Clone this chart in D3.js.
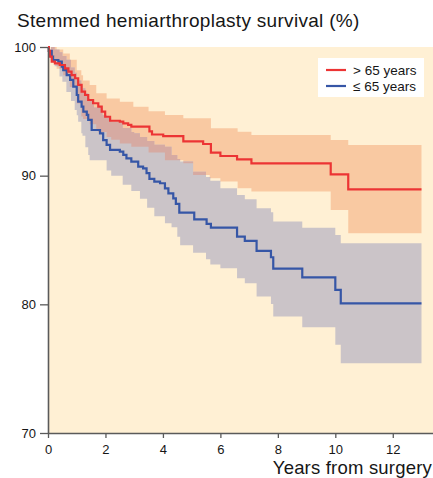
<!DOCTYPE html>
<html><head><meta charset="utf-8">
<script src="https://cdn.jsdelivr.net/npm/d3@7"></script>
<style>
html,body{margin:0;padding:0;background:#fff;}
svg{display:block;font-family:"Liberation Sans",Arial,Helvetica,sans-serif;}
</style></head>
<body>
<svg id="chart" width="433" height="478"></svg>
<script>
// ---- data ----
const title = "Stemmed hemiarthroplasty survival (%)";
const xTitle = "Years from surgery";
const seriesNames = ["> 65 years", "\u2264 65 years"];
const xTicks = [0, 2, 4, 6, 8, 10, 12];
const yTicks = [70, 80, 90, 100];

// > 65 years: Kaplan-Meier estimate
const redT = [0,0.03,0.07,0.13,0.24,0.41,0.59,0.71,0.82,0.94,1.05,1.17,1.29,1.40,1.57,1.75,1.87,1.99,2.16,2.50,2.62,2.79,2.90,3.53,3.62,4.01,4.71,5.40,5.67,6.00,6.58,7.08,9.84,10.45,13];
const redS = [100,99.7,99.25,98.86,98.73,98.6,98.34,98.08,97.82,97.57,97.05,96.53,96.27,95.88,95.63,95.36,94.97,94.58,94.27,94.2,94.07,93.94,93.81,93.45,93.2,93.08,92.67,92.46,91.79,91.53,91.27,90.96,90.1,88.94,88.94];
// > 65 years: confidence band
const redBandT = [0,0.1,0.3,0.53,0.76,1.0,1.16,1.22,1.45,1.68,1.74,2.04,2.2,2.5,2.9,2.97,3.5,4.07,4.71,5.05,5.63,5.67,6.0,6.6,7.08,9.84,10.45,13];
const redLo    = [100,99.0,98.3,97.8,96.9,95.6,94.6,94.4,94.0,93.6,93.4,93.0,92.8,92.5,92.25,92.25,91.8,91.2,90.96,90.05,89.8,89.8,89.54,89.02,88.76,87.33,85.52,85.52];
const redHi    = [100,100,99.8,99.5,99.0,98.2,97.8,97.4,97.05,96.4,96.4,96.0,96.0,95.75,95.75,95.36,95.0,94.72,94.46,94.46,94.46,93.68,93.68,93.42,93.16,92.77,92.39,92.39];

// <= 65 years: Kaplan-Meier estimate
const blueT = [0,0.03,0.13,0.18,0.36,0.48,0.53,0.65,0.77,0.88,1.0,1.05,1.17,1.23,1.35,1.40,1.52,1.81,1.92,2.04,2.16,2.50,2.62,2.73,2.90,3.14,3.31,3.43,3.53,3.70,3.90,4.07,4.19,4.36,4.45,4.57,5.09,5.52,5.67,6.58,6.85,7.26,7.76,7.84,8.85,10.0,10.19,13];
const blueS = [100,99.7,99.25,98.99,98.86,98.47,98.21,97.82,97.44,96.92,96.27,95.75,95.36,94.97,94.72,94.33,93.55,93.29,92.77,92.39,92.0,91.87,91.61,91.35,91.09,90.7,90.57,90.19,89.75,89.54,89.41,89.02,88.63,88.24,87.8,87.12,86.61,86.25,85.96,85.26,84.93,84.15,83.66,82.78,82.1,81.12,80.08,80.08];
// <= 65 years: confidence band
const blueBandT = [0,0.1,0.23,0.4,0.5,0.64,0.8,0.93,1.0,1.05,1.16,1.2,1.3,1.4,1.45,1.6,1.9,2.04,2.2,2.6,2.9,3.0,3.2,3.45,3.7,4.07,4.3,4.5,4.6,5.05,5.5,5.65,6.0,6.58,6.85,7.26,7.76,7.84,8.85,10.0,10.19,13];
const blueLo    = [100,99.3,98.5,97.7,97.3,96.5,95.8,95.1,94.7,94.2,93.3,93.1,92.2,91.6,91.2,91.2,91.2,90.4,90.0,89.3,88.8,88.8,88.2,87.5,86.85,86.3,86.0,85.26,84.6,84.0,83.5,83.1,82.8,82.03,81.64,80.6,80.03,79.05,78.22,76.85,75.42,75.42];
const blueHi    = [100,100,99.8,99.6,99.3,99.0,98.4,98.0,97.6,97.4,97.0,96.8,96.4,96.0,95.8,95.3,94.7,94.5,94.2,93.7,93.4,93.3,93.0,92.7,92.4,92.25,91.6,91.3,91.1,90.3,89.9,89.6,89.02,88.5,88.17,87.47,87.16,86.43,85.96,85.39,84.74,84.74];

// ---- colours ----
const C = {
  bg: "#fff0d4", orange: "#f9c9a2", grey: "#cbc4c8", overlap: "#d6aaa2",
  red: "#ec3434", blue: "#3656a6", axis: "#5a5a5a", text: "#161616"
};

const svg = d3.select("#chart");
const x = d3.scaleLinear().domain([0, 13.4]).range([48, 433]);
const y = d3.scaleLinear().domain([70, 100]).range([433, 47]);

const band = (T, lo, hi) => T.map((t, i) => ({t, lo: lo[i], hi: hi[i]}));
const pts = (T, S) => T.map((t, i) => ({t, s: S[i]}));

const areaGen = d3.area().curve(d3.curveStepAfter)
  .x(d => x(d.t)).y0(d => y(d.lo)).y1(d => y(d.hi));
const lineGen = d3.line().curve(d3.curveStepAfter)
  .x(d => x(d.t)).y(d => y(d.s));

// background
svg.append("rect").attr("x", x(0)).attr("y", y(100))
  .attr("width", x.range()[1] - x(0)).attr("height", y(70) - y(100))
  .attr("fill", C.bg);

const redBand = band(redBandT, redLo, redHi);
const blueBand = band(blueBandT, blueLo, blueHi);

svg.append("defs").append("clipPath").attr("id", "greyClip")
  .append("path").attr("d", areaGen(blueBand));

svg.append("path").attr("d", areaGen(redBand)).attr("fill", C.orange);
svg.append("path").attr("d", areaGen(blueBand)).attr("fill", C.grey);
svg.append("path").attr("d", areaGen(redBand)).attr("fill", C.overlap)
  .attr("clip-path", "url(#greyClip)");

svg.append("path").attr("d", lineGen(pts(blueT, blueS)))
  .attr("fill", "none").attr("stroke", C.blue).attr("stroke-width", 2.2);
svg.append("path").attr("d", lineGen(pts(redT, redS)))
  .attr("fill", "none").attr("stroke", C.red).attr("stroke-width", 2.2);

// axes
const yAxis = svg.append("g").attr("transform", `translate(${x(0)},0)`)
  .call(d3.axisLeft(y).tickValues(yTicks).tickSize(8).tickSizeOuter(0).tickPadding(4));
const xAxis = svg.append("g").attr("transform", `translate(0,${y(70)})`)
  .call(d3.axisBottom(x).tickValues(xTicks).tickSize(5).tickSizeOuter(0).tickPadding(7));
[yAxis, xAxis].forEach(g => {
  g.select(".domain").attr("stroke", C.axis).attr("stroke-width", 1.6);
  g.selectAll(".tick line").attr("stroke", C.axis).attr("stroke-width", 1.3);
  g.selectAll(".tick text").attr("fill", C.text).attr("font-size", 13)
    .attr("font-family", "'Liberation Sans',Arial,sans-serif");
});

// titles
svg.append("text").attr("x", 17).attr("y", 27).attr("fill", C.text)
  .attr("font-size", 19).attr("letter-spacing", 0.3).text(title);
svg.append("text").attr("x", 432).attr("y", 474).attr("text-anchor", "end")
  .attr("fill", C.text).attr("font-size", 18.5).attr("letter-spacing", 0.2).text(xTitle);

// legend
const lg = svg.append("g");
lg.append("rect").attr("x", 318).attr("y", 58).attr("width", 106).attr("height", 39).attr("fill", "#fff");
const lColors = [C.red, C.blue];
seriesNames.forEach((n, i) => {
  const ly = 70 + i * 16;
  lg.append("line").attr("x1", 326).attr("x2", 346).attr("y1", ly).attr("y2", ly)
    .attr("stroke", lColors[i]).attr("stroke-width", 2.2);
  lg.append("text").attr("x", 353).attr("y", ly + 4.5).attr("font-size", 13.5)
    .attr("fill", C.text).text(n);
});
</script>
</body></html>
